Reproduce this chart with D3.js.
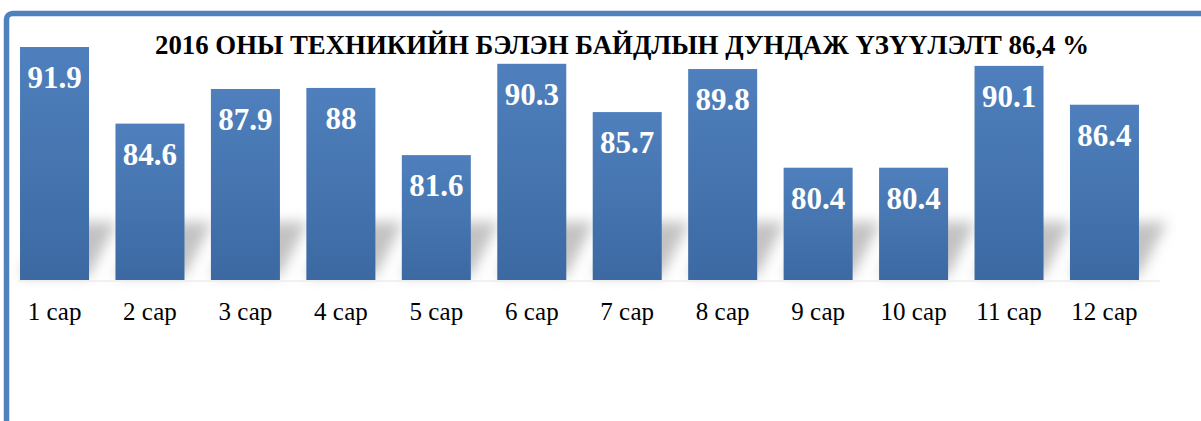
<!DOCTYPE html>
<html>
<head>
<meta charset="utf-8">
<script src="https://cdnjs.cloudflare.com/ajax/libs/d3/7.8.5/d3.min.js"></script>
<style>
  body { margin: 0; background: #fff; }
  svg { display: block; }
</style>
</head>
<body>
<svg width="1201" height="421"></svg>
<script>
    var svg = d3.select("svg"),
        width = +svg.attr("width"),
        height = +svg.attr("height");

    var data = [
        {"month": "1 сар", "value": 91.9},
        {"month": "2 сар", "value": 84.6},
        {"month": "3 сар", "value": 87.9},
        {"month": "4 сар", "value": 88},
        {"month": "5 сар", "value": 81.6},
        {"month": "6 сар", "value": 90.3},
        {"month": "7 сар", "value": 85.7},
        {"month": "8 сар", "value": 89.8},
        {"month": "9 сар", "value": 80.4},
        {"month": "10 сар", "value": 80.4},
        {"month": "11 сар", "value": 90.1},
        {"month": "12 сар", "value": 86.4}
    ];

    var baseline = 280;

    var x = d3.scaleBand()
        .domain(data.map(function(d) { return d.month; }))
        .range([6.8, 1152.2])
        .paddingInner(0.277)
        .paddingOuter(0.1385);

    // axis does not start at zero in the original
    var y = d3.scaleLinear()
        .domain([69.7, 91.9])
        .range([baseline, 47]);

    var defs = svg.append("defs");

    var grad = defs.append("linearGradient")
        .attr("id", "barGrad")
        .attr("x1", 0).attr("y1", 0)
        .attr("x2", 0).attr("y2", 1);
    grad.append("stop").attr("offset", "0%").attr("stop-color", "#4f80bd");
    grad.append("stop").attr("offset", "100%").attr("stop-color", "#3c69a2");

    defs.append("filter")
        .attr("id", "blur")
        .attr("x", "-50%").attr("y", "-50%")
        .attr("width", "200%").attr("height", "200%")
      .append("feGaussianBlur")
        .attr("stdDeviation", 6.5);

    // frame (only top and left edge show)
    svg.append("rect")
        .attr("x", 6.5)
        .attr("y", 13.5)
        .attr("width", width + 20)
        .attr("height", height + 20)
        .attr("rx", 6)
        .attr("fill", "none")
        .attr("stroke", "#4f81bd")
        .attr("stroke-width", 5.5);

    // perspective shadow behind the bars
    svg.append("g")
        .attr("class", "shadows")
        .attr("filter", "url(#blur)")
      .selectAll("path")
      .data(data)
      .enter().append("path")
        .attr("fill", "#c2c2c2")
        .attr("d", function(d) {
            var x0 = x(d.month), x1 = x0 + x.bandwidth();
            var top = Math.max(y(d.value), 222);
            return "M" + x0 + "," + (baseline - 4) +
                   "L" + x1 + "," + (baseline - 4) +
                   "L" + (x1 + 28) + "," + top +
                   "L" + (x0 + 28) + "," + top + "Z";
        });

    svg.append("line")
        .attr("x1", 18).attr("x2", 1160)
        .attr("y1", baseline + 1).attr("y2", baseline + 1)
        .attr("stroke", "#ededed")
        .attr("stroke-width", 1.5);

    svg.append("g")
        .attr("class", "bars")
      .selectAll("rect")
      .data(data)
      .enter().append("rect")
        .attr("x", function(d) { return x(d.month); })
        .attr("y", function(d) { return y(d.value); })
        .attr("width", x.bandwidth())
        .attr("height", function(d) { return baseline - y(d.value); })
        .attr("fill", "url(#barGrad)");

    svg.append("g")
        .attr("class", "values")
      .selectAll("text")
      .data(data)
      .enter().append("text")
        .attr("x", function(d) { return x(d.month) + x.bandwidth() / 2; })
        .attr("y", function(d) { return y(d.value) + 41; })
        .attr("text-anchor", "middle")
        .attr("fill", "#fff")
        .style("font-family", "'Liberation Serif', 'Times New Roman', serif")
        .style("font-weight", "bold")
        .style("font-size", "31px")
        .text(function(d) { return d.value; });

    // category labels, axis line itself is hidden
    var xAxis = svg.append("g")
        .attr("transform", "translate(0," + baseline + ")")
        .call(d3.axisBottom(x).tickSize(0).tickPadding(22));
    xAxis.select(".domain").remove();
    xAxis.selectAll("text")
        .attr("fill", "#000")
        .style("font-family", "'Liberation Serif', 'Times New Roman', serif")
        .style("font-size", "25px");

    svg.append("text")
        .attr("x", 622)
        .attr("y", 54)
        .attr("text-anchor", "middle")
        .style("font-family", "'Liberation Serif', 'Times New Roman', serif")
        .style("font-weight", "bold")
        .style("font-size", "26.8px")
        .text("2016 ОНЫ ТЕХНИКИЙН БЭЛЭН БАЙДЛЫН ДУНДАЖ ҮЗҮҮЛЭЛТ 86,4 %");
</script>
</body>
</html>
